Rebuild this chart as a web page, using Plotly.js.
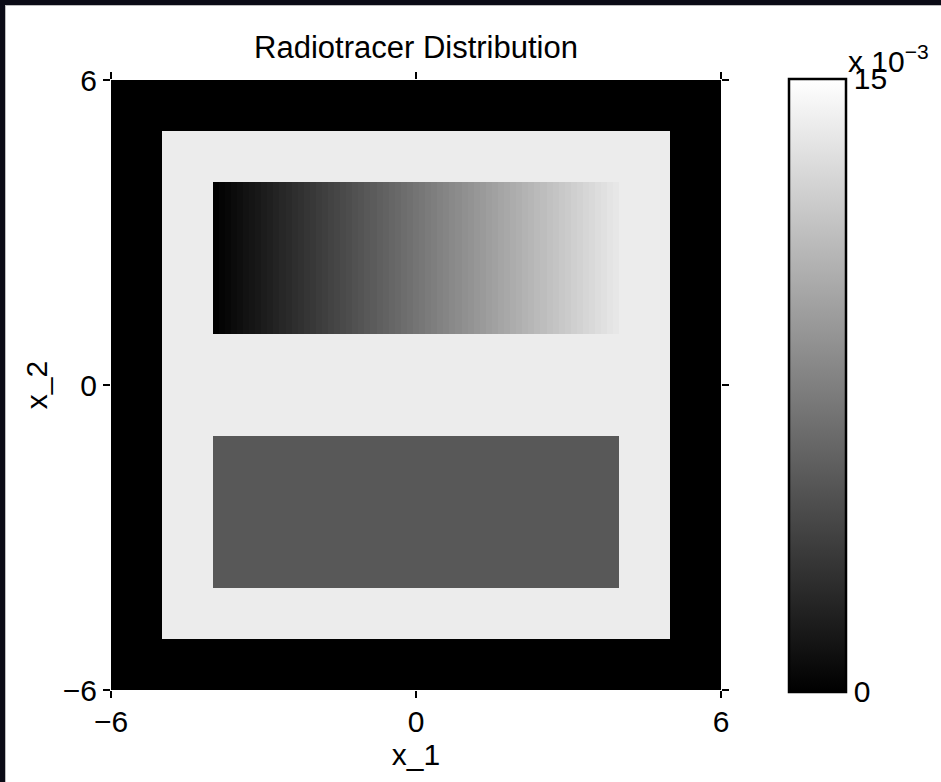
<!DOCTYPE html>
<html>
<head>
<meta charset="utf-8">
<script src="https://cdn.plot.ly/plotly-3.0.1.min.js"></script>
<style>
  html, body { margin: 0; padding: 0; background: #ffffff; }
  #chart { position: absolute; left: 0; top: 0; width: 941px; height: 782px; }
  .edge { position: absolute; background: #0b0b16; z-index: 10; }
  .edgeline { position: absolute; background: #bdbdbd; z-index: 10; }
</style>
</head>
<body>
<div id="chart"></div>
<div class="edge" style="left:0;top:0;width:941px;height:5px;"></div>
<div class="edge" style="left:0;top:0;width:5px;height:782px;"></div>
<div class="edgeline" style="left:5px;top:5px;width:936px;height:1px;"></div>
<div class="edgeline" style="left:5px;top:5px;width:1px;height:777px;"></div>
<script>
// ---- data ----
const axisTicks = [-6, 0, 6];
const fieldEdge = 6;          // phantom field extent
const squareEdge = 5;         // light square extent
const rectEdge = 4;           // inner rectangles x extent
const topRectY = [1, 4];      // ramp rectangle y range
const bottomRectY = [-4, -1]; // uniform rectangle y range

const outerValue = 0;
const squareValue = 0.0139;
const bottomRectValue = 0.0052;
// ramp rectangle column values (left to right)
const rampValues = [
  0, 0.00021, 0.00041, 0.00062, 0.00082, 0.00103, 0.00124, 0.00144, 0.00165, 0.00185,
  0.00206, 0.00227, 0.00247, 0.00268, 0.00288, 0.00309, 0.00330, 0.00350, 0.00371, 0.00392,
  0.00412, 0.00433, 0.00453, 0.00474, 0.00495, 0.00515, 0.00536, 0.00556, 0.00577, 0.00598,
  0.00618, 0.00639, 0.00659, 0.00680, 0.00701, 0.00721, 0.00742, 0.00762, 0.00783, 0.00804,
  0.00824, 0.00845, 0.00865, 0.00886, 0.00907, 0.00927, 0.00948, 0.00968, 0.00989, 0.01010,
  0.01030, 0.01051, 0.01072, 0.01092, 0.01113, 0.01133, 0.01154, 0.01175, 0.01195, 0.01216,
  0.01236, 0.01257, 0.01278, 0.01298, 0.01319, 0.01339, 0.01360
];
const colorMin = 0;
const colorMax = 0.015;
const cbTickVals = [0, 0.015];
const cbTickText = ['0', '15'];

// ---- build the heatmap grid (cell edges + values) ----
const nRamp = rampValues.length;
const rampEdges = [];
for (let i = 0; i <= nRamp; i++) rampEdges.push(-rectEdge + i * (2 * rectEdge) / nRamp);
const xEdges = [-fieldEdge, -squareEdge].concat(rampEdges).concat([squareEdge, fieldEdge]);
const yEdges = [-fieldEdge, -squareEdge, bottomRectY[0], bottomRectY[1], topRectY[0], topRectY[1], squareEdge, fieldEdge];

function rowOf(inner, outerCols) {
  return [outerValue, outerCols].concat(inner).concat([outerCols, outerValue]);
}
const allOuter = new Array(nRamp).fill(outerValue);
const allSquare = new Array(nRamp).fill(squareValue);
const allBottom = new Array(nRamp).fill(bottomRectValue);
const z = [
  rowOf(allOuter, outerValue),
  rowOf(allSquare, squareValue),
  rowOf(allBottom, squareValue),
  rowOf(allSquare, squareValue),
  rowOf(rampValues, squareValue),
  rowOf(allSquare, squareValue),
  rowOf(allOuter, outerValue)
];

const family = 'Liberation Sans, Arial, Helvetica, sans-serif';
const font = { family: family, size: 30, color: '#000000' };
const titleFont = { family: family, size: 31, color: '#000000' };

const trace = {
  type: 'heatmap',
  x: xEdges,
  y: yEdges,
  z: z,
  zmin: colorMin,
  zmax: colorMax,
  colorscale: [[0, '#000000'], [1, '#ffffff']],
  hoverinfo: 'skip',
  colorbar: {
    x: 1.1115, xanchor: 'left', xref: 'paper',
    y: 0.5, yanchor: 'middle', yref: 'paper',
    len: 1.005, lenmode: 'fraction',
    thickness: 57, thicknessmode: 'pixels',
    xpad: 0, ypad: 0,
    outlinewidth: 2.5, outlinecolor: '#000000',
    tickmode: 'array', tickvals: cbTickVals, ticktext: cbTickText,
    ticks: '', ticklabelposition: 'outside',
    tickfont: font
  }
};

const axisCommon = {
  range: [-fieldEdge, fieldEdge],
  tickmode: 'array',
  tickvals: axisTicks,
  ticktext: axisTicks.map(v => v < 0 ? '\u2212' + Math.abs(v) : String(v)),
  ticks: 'outside', ticklen: 7, tickwidth: 1.5, tickcolor: '#000000',
  mirror: 'ticks', showline: false,
  showgrid: false, zeroline: false,
  tickfont: font,
  fixedrange: true
};

const layout = {
  width: 941, height: 782,
  paper_bgcolor: '#ffffff', plot_bgcolor: '#ffffff',
  font: font,
  margin: { l: 111, r: 220, t: 80, b: 92 },
  title: { text: 'Radiotracer Distribution', font: titleFont, xref: 'paper', x: 0.5, xanchor: 'center', yref: 'container', y: 1 - 47 / 782, yanchor: 'middle' },
  xaxis: Object.assign({}, axisCommon, { ticklabelstandoff: -2, title: { text: 'x_1', font: font, standoff: 0 } }),
  yaxis: Object.assign({}, axisCommon, { title: { text: 'x_2', font: font, standoff: 6 } }),
  annotations: [{
    xref: 'paper', yref: 'paper',
    x: (846 - 111) / 610, y: (690 - 80) / 610,
    xanchor: 'left', yanchor: 'bottom',
    text: 'x 10<sup>\u22123</sup>', showarrow: false, font: font
  }],
  showlegend: false
};

Plotly.newPlot('chart', [trace], layout, { displayModeBar: false, staticPlot: true });
</script>
</body>
</html>
